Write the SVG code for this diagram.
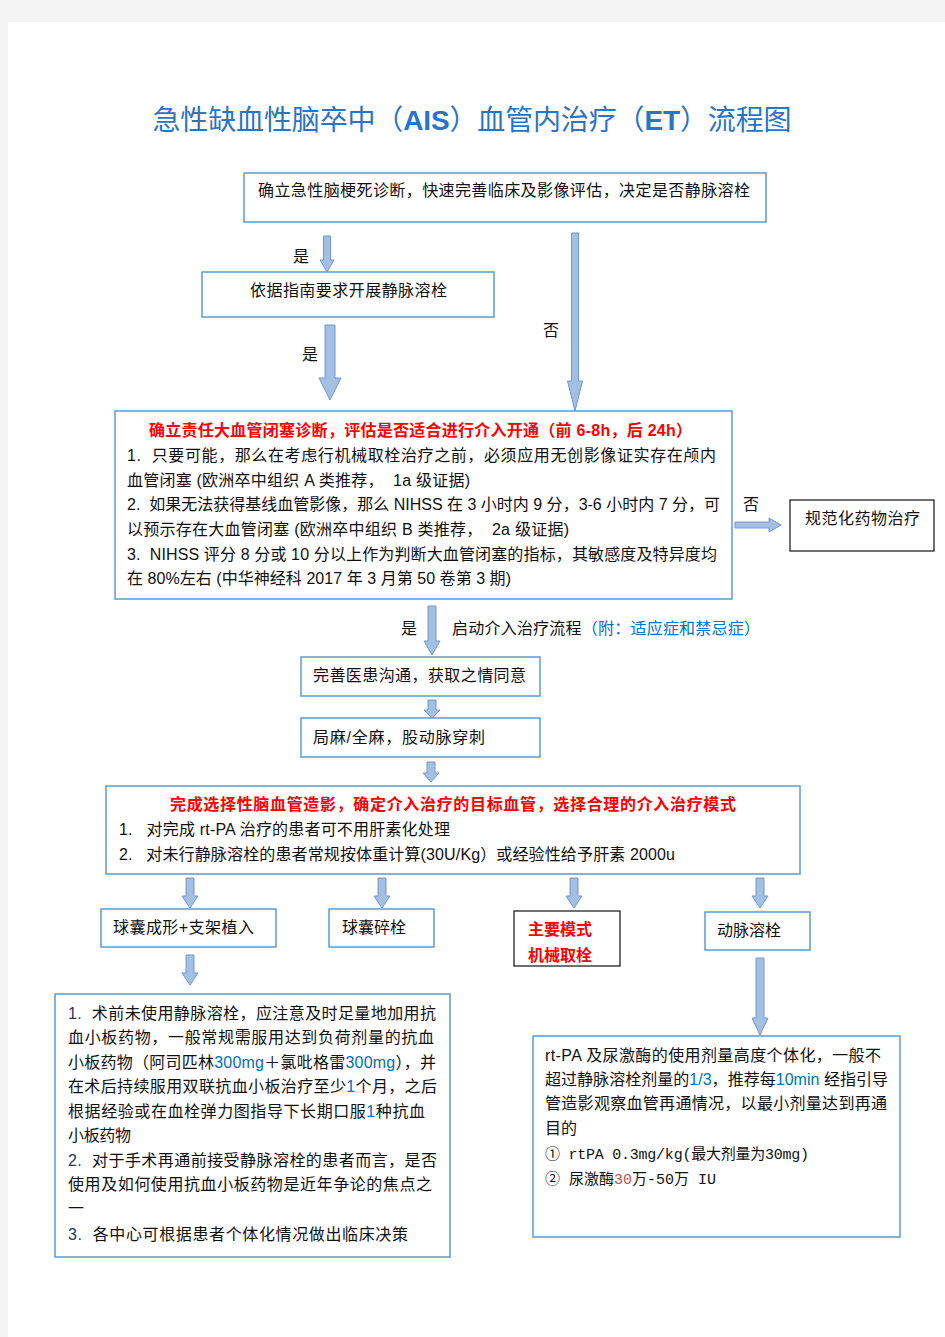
<svg xmlns="http://www.w3.org/2000/svg" width="945" height="1337" viewBox="0 0 945 1337" xml:space="preserve">
<style>
text{white-space:pre}
.t{font-family:"Liberation Sans","Noto Sans CJK SC",sans-serif;font-size:16px;fill:#111}
.r{font-family:"Liberation Sans","Noto Sans CJK SC",sans-serif;font-size:16px;font-weight:bold;fill:#ff0000}
.b{fill:#0070c0}
.m{font-family:"Liberation Mono","Noto Sans CJK SC",monospace;font-size:15px;fill:#111}
.box{fill:#fff;stroke:#5b9bd5;stroke-width:1.5}
.kbox{fill:#fff;stroke:#111;stroke-width:1.2}
.arr{fill:#a3bfe2;stroke:#7099cc;stroke-width:1}
</style>
<rect x="0" y="0" width="945" height="1337" fill="#f3f3f3"/>
<rect x="8" y="22" width="937" height="1315" fill="#fff"/>
<text x="472" y="130" text-anchor="middle" font-family="Noto Sans CJK SC,sans-serif" font-size="28" fill="#2874c6" textLength="639" lengthAdjust="spacing">急性缺血性脑卒中（<tspan font-family="Liberation Sans,sans-serif" font-weight="bold">AIS</tspan>）血管内治疗（<tspan font-family="Liberation Sans,sans-serif" font-weight="bold">ET</tspan>）流程图</text>
<g id="connectors">
<path class="arr" d="M323.5,236 L330.5,236 L330.5,260 L334,260 L327,272 L320,260 L323.5,260 Z"/>
<path class="arr" d="M325,325 L335,325 L335,378 L341,378 L330,400 L319,378 L325,378 Z"/>
<path class="arr" d="M571.5,233 L578.5,233 L578.5,381 L582.5,381 L575,411 L567.5,381 L571.5,381 Z"/>
<path class="arr" d="M735,522 L769,522 L769,518 L781,525 L769,532 L769,528 L735,528 Z"/>
<path class="arr" d="M428,606 L436,606 L436,641 L440,641 L432,655 L424,641 L428,641 Z"/>
<path class="arr" d="M428,700 L436,700 L436,710 L440,710 L432,718 L424,710 L428,710 Z"/>
<path class="arr" d="M427,762 L435,762 L435,773 L439,773 L431,782 L423,773 L427,773 Z"/>
<path class="arr" d="M186,878 L194,878 L194,896 L198,896 L190,908 L182,896 L186,896 Z"/>
<path class="arr" d="M378,878 L386,878 L386,896 L390,896 L382,908 L374,896 L378,896 Z"/>
<path class="arr" d="M570,878 L578,878 L578,896 L582,896 L574,908 L566,896 L570,896 Z"/>
<path class="arr" d="M756,878 L764,878 L764,896 L768,896 L760,908 L752,896 L756,896 Z"/>
<path class="arr" d="M186,955 L194,955 L194,973 L198,973 L190,985 L182,973 L186,973 Z"/>
<path class="arr" d="M756,958 L764,958 L764,1018 L768,1018 L760,1035 L752,1018 L756,1018 Z"/>
<text class="t" x="293" y="262">是</text>
<text class="t" x="302" y="360">是</text>
<text class="t" x="543" y="336">否</text>
<text class="t" x="743" y="510">否</text>
<text class="t" x="401" y="634">是</text>
<text class="t" x="452" y="634" textLength="308" lengthAdjust="spacing">启动介入治疗流程<tspan class="b">（附：适应症和禁忌症）</tspan></text>
</g>
<g id="n1"><rect class="box" x="244" y="173" width="522" height="49"/>
<text class="t" x="258" y="196" textLength="492" lengthAdjust="spacing">确立急性脑梗死诊断，快速完善临床及影像评估，决定是否静脉溶栓</text></g>
<g id="n2"><rect class="box" x="202" y="272" width="292" height="45"/>
<text class="t" x="250" y="296" textLength="197" lengthAdjust="spacing">依据指南要求开展静脉溶栓</text></g>
<g id="n3"><rect class="box" x="115" y="411" width="617" height="188"/>
<text class="r" x="149" y="436" textLength="543" lengthAdjust="spacing">确立责任大血管闭塞诊断，评估是否适合进行介入开通（前 6-8h，后 24h）</text>
<text class="t" x="127" y="461" textLength="589" lengthAdjust="spacing">1.  只要可能，那么在考虑行机械取栓治疗之前，必须应用无创影像证实存在颅内</text>
<text class="t" x="127" y="486" textLength="343" lengthAdjust="spacing">血管闭塞 (欧洲卒中组织 A 类推荐，  1a 级证据)</text>
<text class="t" x="127" y="510" textLength="593" lengthAdjust="spacing">2.  如果无法获得基线血管影像，那么 NIHSS 在 3 小时内 9 分，3-6 小时内 7 分，可</text>
<text class="t" x="127" y="535" textLength="442" lengthAdjust="spacing">以预示存在大血管闭塞 (欧洲卒中组织 B 类推荐，  2a 级证据)</text>
<text class="t" x="127" y="560" textLength="590" lengthAdjust="spacing">3.  NIHSS 评分 8 分或 10 分以上作为判断大血管闭塞的指标，其敏感度及特异度均</text>
<text class="t" x="127" y="584" textLength="384" lengthAdjust="spacing">在 80%左右 (中华神经科 2017 年 3 月第 50 卷第 3 期)</text></g>
<g id="n4"><rect class="kbox" x="790" y="500" width="144" height="51"/>
<text class="t" x="805" y="524" textLength="115" lengthAdjust="spacing">规范化药物治疗</text></g>
<g id="n5"><rect class="box" x="301" y="657" width="239" height="39"/>
<text class="t" x="313" y="681" textLength="213" lengthAdjust="spacing">完善医患沟通，获取之情同意</text></g>
<g id="n6"><rect class="box" x="301" y="718" width="239" height="39"/>
<text class="t" x="313" y="743" textLength="172" lengthAdjust="spacing">局麻/全麻，股动脉穿刺</text></g>
<g id="n7"><rect class="box" x="106" y="786" width="694" height="88"/>
<text class="r" x="170" y="810" textLength="566" lengthAdjust="spacing">完成选择性脑血管造影，确定介入治疗的目标血管，选择合理的介入治疗模式</text>
<text class="t" x="119" y="835" textLength="331" lengthAdjust="spacing">1.   对完成 rt-PA 治疗的患者可不用肝素化处理</text>
<text class="t" x="119" y="860" textLength="556" lengthAdjust="spacing">2.   对未行静脉溶栓的患者常规按体重计算(30U/Kg）或经验性给予肝素 2000u</text></g>
<g id="n8"><rect class="box" x="101" y="909" width="175" height="38"/>
<text class="t" x="113" y="933" textLength="141" lengthAdjust="spacing">球囊成形+支架植入</text></g>
<g id="n9"><rect class="box" x="329" y="909" width="105" height="38"/>
<text class="t" x="342" y="933">球囊碎栓</text></g>
<g id="n10"><rect class="kbox" x="514" y="911" width="106" height="55"/>
<text class="r" x="528" y="935">主要模式</text>
<text class="r" x="528" y="961">机械取栓</text></g>
<g id="n11"><rect class="box" x="705" y="912" width="105" height="38"/>
<text class="t" x="717" y="936">动脉溶栓</text></g>
<g id="n12"><rect class="box" x="55" y="994" width="395" height="263"/>
<text class="t" x="68" y="1019" textLength="368" lengthAdjust="spacing"><tspan fill="#1f3864">1.</tspan>  术前未使用静脉溶栓，应注意及时足量地加用抗</text>
<text class="t" x="68" y="1043" textLength="366" lengthAdjust="spacing">血小板药物，一般常规需服用达到负荷剂量的抗血</text>
<text class="t" x="68" y="1068" textLength="368" lengthAdjust="spacing">小板药物（阿司匹林<tspan class="b">300mg</tspan>＋氯吡格雷<tspan class="b">300mg</tspan>），并</text>
<text class="t" x="68" y="1092" textLength="369" lengthAdjust="spacing">在术后持续服用双联抗血小板治疗至少<tspan class="b">1</tspan>个月，之后</text>
<text class="t" x="68" y="1117" textLength="357" lengthAdjust="spacing">根据经验或在血栓弹力图指导下长期口服<tspan class="b">1</tspan>种抗血</text>
<text class="t" x="68" y="1141" textLength="63" lengthAdjust="spacing">小板药物</text>
<text class="t" x="68" y="1166" textLength="369" lengthAdjust="spacing"><tspan fill="#1f3864">2.</tspan>  对于手术再通前接受静脉溶栓的患者而言，是否</text>
<text class="t" x="68" y="1190" textLength="364" lengthAdjust="spacing">使用及如何使用抗血小板药物是近年争论的焦点之</text>
<text class="t" x="68" y="1214">一</text>
<text class="t" x="68" y="1240" textLength="340" lengthAdjust="spacing"><tspan fill="#1f3864">3.</tspan>  各中心可根据患者个体化情况做出临床决策</text></g>
<g id="n13"><rect class="box" x="533" y="1036" width="367" height="201"/>
<text class="t" x="545" y="1061" textLength="336" lengthAdjust="spacing">rt-PA 及尿激酶的使用剂量高度个体化，一般不</text>
<text class="t" x="545" y="1085" textLength="343" lengthAdjust="spacing">超过静脉溶栓剂量的<tspan class="b">1/3</tspan>，推荐每<tspan class="b">10min</tspan> 经指引导</text>
<text class="t" x="545" y="1109" textLength="342" lengthAdjust="spacing">管造影观察血管再通情况，以最小剂量达到再通</text>
<text class="t" x="545" y="1134">目的</text>
<text class="m" x="545" y="1159" textLength="264" lengthAdjust="spacing">① rtPA 0.3mg/kg(最大剂量为30mg)</text>
<text class="m" x="545" y="1184" textLength="171" lengthAdjust="spacing">② 尿激酶<tspan fill="#c0504d">30</tspan>万-50万 IU</text></g>
</svg>
